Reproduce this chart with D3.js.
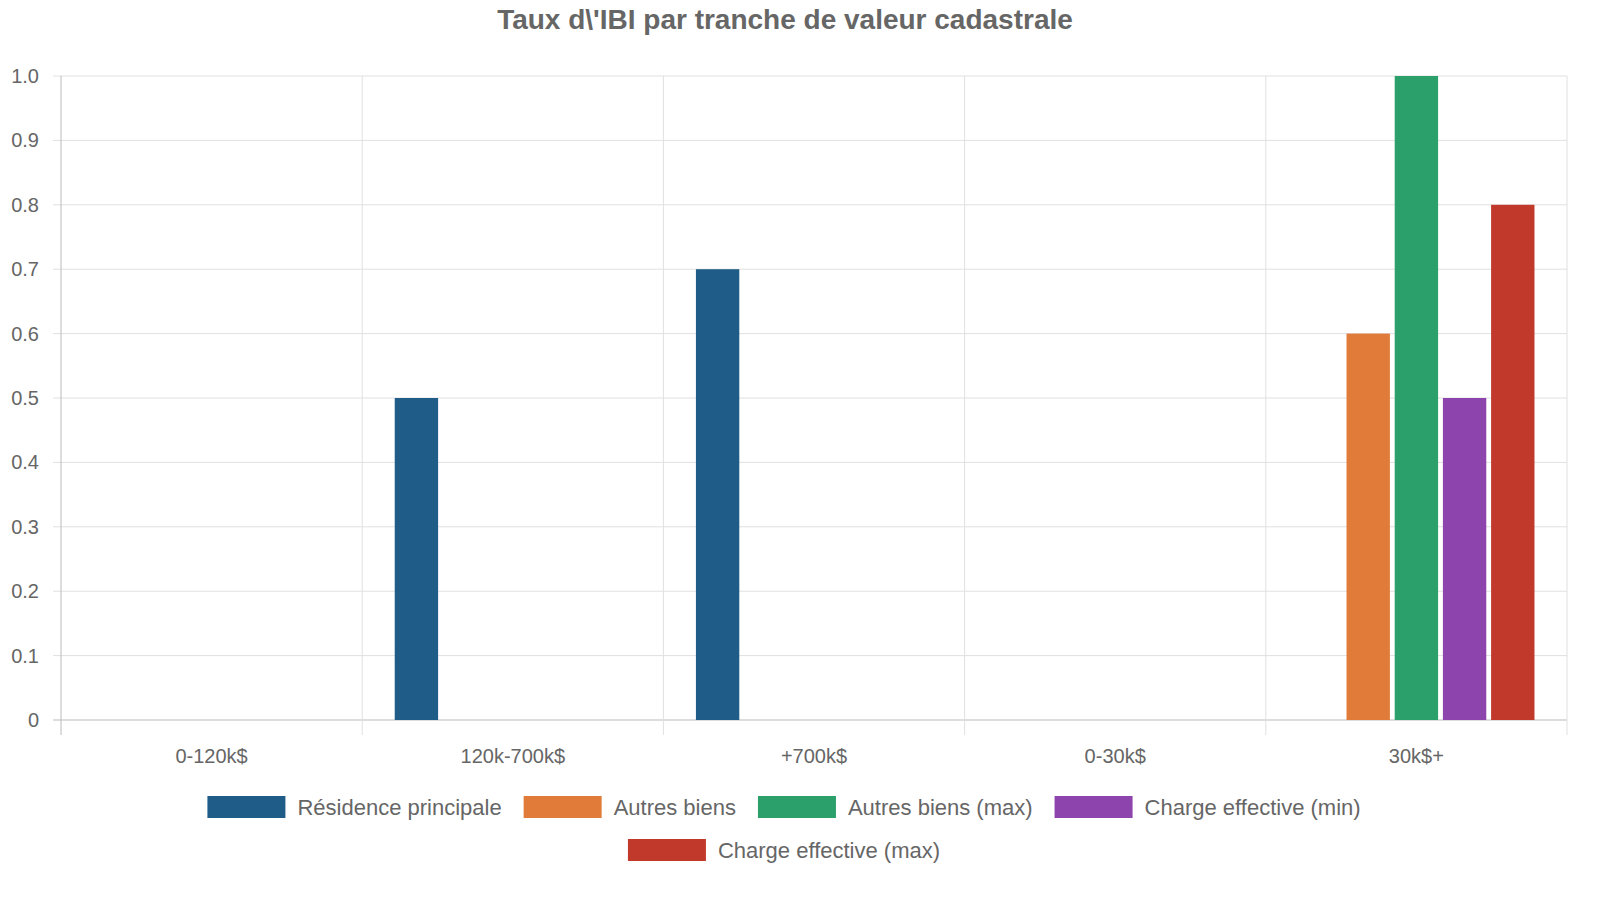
<!DOCTYPE html>
<html>
<head>
<meta charset="utf-8">
<script src="https://cdn.jsdelivr.net/npm/d3@7"></script>
<style>
  body { margin: 0; background: #fff; font-family: "Liberation Sans", Arial, sans-serif; }
</style>
</head>
<body>
<svg id="chart" width="1600" height="900"></svg>
<script>
var categories = ['0-120k$', '120k-700k$', '+700k$', '0-30k$', '30k$+'];
var seriesNames = ['Résidence principale', 'Autres biens', 'Autres biens (max)', 'Charge effective (min)', 'Charge effective (max)'];
var seriesColors = ['#1f5c87', '#e07b39', '#2ca06b', '#8e44ad', '#c0392b'];
var residence = [0, 0.5, 0.7, null, null];
var autres = [null, null, null, null, 0.6];
var autresMax = [null, null, null, null, 1.0];
var chargeMin = [null, null, null, null, 0.5];
var chargeMax = [null, null, null, null, 0.8];
var yTicks = [0, 0.1, 0.2, 0.3, 0.4, 0.5, 0.6, 0.7, 0.8, 0.9, 1.0];

(function() {
  var seriesValues = [residence, autres, autresMax, chargeMin, chargeMax];
  var svg = d3.select('#chart');
  var mLeft = 61, mRight = 1567, mTop = 76, mBottom = 720;

  var x = d3.scaleBand().domain(categories).range([mLeft, mRight]);
  var inner = d3.scaleBand().domain(d3.range(seriesNames.length))
      .range([0, x.bandwidth() * 0.8]);
  var y = d3.scaleLinear().domain([0, 1]).range([mBottom, mTop]);

  // grid
  svg.selectAll('.hgrid').data(yTicks).enter().append('line')
      .attr('x1', mLeft - 8).attr('x2', mRight)
      .attr('y1', function(d) { return y(d); }).attr('y2', function(d) { return y(d); })
      .attr('stroke', function(d) { return d === 0 ? '#bbb' : '#e0e0e0'; });
  var bounds = categories.map(function(c) { return x(c); }).concat([mRight]);
  svg.selectAll('.vgrid').data(bounds).enter().append('line')
      .attr('x1', function(d) { return d; }).attr('x2', function(d) { return d; })
      .attr('y1', mTop).attr('y2', mBottom + 15)
      .attr('stroke', function(d, i) { return i === 0 ? '#bbb' : '#e0e0e0'; });

  svg.selectAll('.ylab').data(yTicks).enter().append('text')
      .attr('x', 39).attr('y', function(d) { return y(d); }).attr('dy', '0.35em')
      .attr('text-anchor', 'end').attr('font-size', 20).attr('fill', '#666')
      .text(function(d) { return d === 0 ? '0' : d.toFixed(1); });

  svg.selectAll('.xlab').data(categories).enter().append('text')
      .attr('x', function(d) { return x(d) + x.bandwidth() / 2; }).attr('y', 763)
      .attr('text-anchor', 'middle').attr('font-size', 20).attr('fill', '#666')
      .text(function(d) { return d; });

  // bars
  seriesValues.forEach(function(vals, si) {
    var pts = vals.map(function(v, ci) { return { v: v, c: categories[ci] }; })
        .filter(function(d) { return d.v !== null && d.v > 0; });
    svg.append('g').selectAll('rect').data(pts).enter().append('rect')
      .attr('x', function(d) { return x(d.c) + x.bandwidth() * 0.1 + inner(si) + inner.bandwidth() * 0.05; })
      .attr('width', inner.bandwidth() * 0.9)
      .attr('y', function(d) { return y(d.v); })
      .attr('height', function(d) { return y(0) - y(d.v); })
      .attr('fill', seriesColors[si]);
  });

  // title
  svg.append('text').attr('x', 785).attr('y', 29).attr('text-anchor', 'middle')
      .attr('font-size', 28).attr('font-weight', 'bold').attr('fill', '#666')
      .text("Taux d\\'IBI par tranche de valeur cadastrale");

  // legend
  var rows = [[0, 1, 2, 3], [4]];
  var rowY = [807, 850];
  rows.forEach(function(row, ri) {
    var g = svg.append('g');
    var cx = 0;
    row.forEach(function(si) {
      g.append('rect').attr('x', cx).attr('y', rowY[ri] - 11).attr('width', 78).attr('height', 22)
          .attr('fill', seriesColors[si]);
      var t = g.append('text').attr('x', cx + 90).attr('y', rowY[ri]).attr('dy', '0.35em')
          .attr('font-size', 22).attr('fill', '#666').text(seriesNames[si]);
      cx += 90 + t.node().getComputedTextLength() + 22;
    });
    var w = cx - 22;
    g.attr('transform', 'translate(' + (784 - w / 2) + ',0)');
  });
})();
</script>
</body>
</html>
